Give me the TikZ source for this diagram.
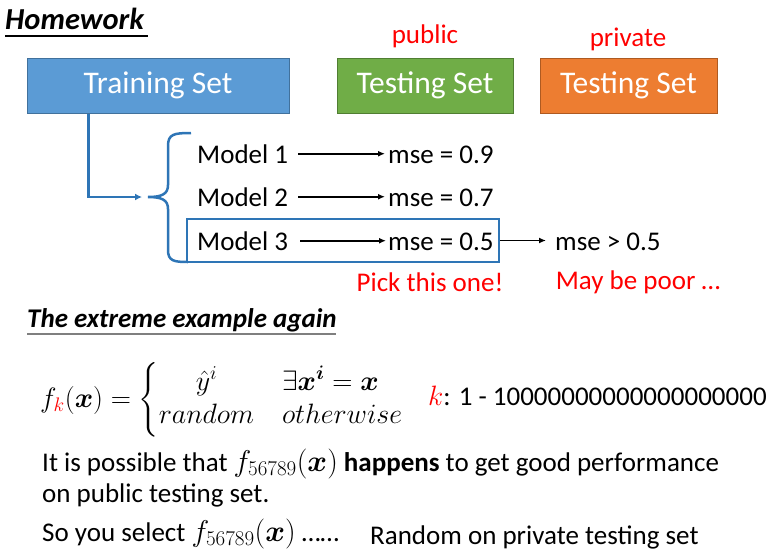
\RequirePackage{fix-cm}
\documentclass[tikz,border=0pt]{standalone}
\usepackage{fontspec}
\usepackage{amsmath}
\setmainfont{Carlito}
\usetikzlibrary{arrows.meta,calc}
\definecolor{bfill}{HTML}{5B9BD5}
\definecolor{bdraw}{HTML}{41719C}
\definecolor{gfill}{HTML}{70AD47}
\definecolor{gdraw}{HTML}{507E32}
\definecolor{ofill}{HTML}{ED7D31}
\definecolor{odraw}{HTML}{AE5A21}
\definecolor{lineblue}{HTML}{2E75B6}
\definecolor{txtred}{HTML}{FF0000}
\definecolor{ulgray}{HTML}{7F7F7F}
\newcommand{\mymath}[1]{{\fontsize{30}{30}\selectfont$#1$}}
\newcommand{\kmath}[1]{{\fontsize{28}{30}\selectfont$#1$}}
\begin{document}
\begin{tikzpicture}[x=1pt,y=-1pt,
  lbl/.style={inner sep=0pt, anchor=base west, font=\fontsize{27}{30}\selectfont},
  redlbl/.style={lbl, text=txtred},
  ttl/.style={inner sep=0pt, anchor=base west, font=\fontsize{27}{30}\selectfont\bfseries\itshape},
  setbox/.style={draw, line width=1pt, minimum height=55pt, inner sep=0pt, text=white, font=\fontsize{31.5}{34}\selectfont},
  arr/.style={-{Latex[length=7pt,width=6pt]}, line width=1.6pt},
  bluearr/.style={-{Latex[length=7pt,width=7pt]}, line width=2.5pt, draw=lineblue},
]
\useasboundingbox (0,0) rectangle (777,558);

% title
\node[ttl, font=\fontsize{30.5}{32}\selectfont\bfseries\itshape] (hw) at (5,29) {Homework};
\draw[line width=1.5pt] (hw.base west) ++(0,7) -- ++(143,0);

% set boxes
\node[setbox, fill=bfill, draw=bdraw, minimum width=262pt] (train) at (158,85.5) {Training Set};
\node[setbox, fill=gfill, draw=gdraw, minimum width=176pt] (pub) at (425,85.5) {Testing Set};
\node[setbox, fill=ofill, draw=odraw, minimum width=177pt] (priv) at (628.5,85.5) {Testing Set};
\node[redlbl, anchor=base] (publbl) at (425,43) {public};
\node[redlbl, anchor=base] (privlbl) at (628,46) {private};

% brace
\coordinate (btip) at (148,197);
\draw[lineblue, line width=2.5pt]
  (191,133) .. controls (174,133) and (168,134) .. (168,146) -- (168,185)
  .. controls (168,194) and (162,197) .. (btip)
  .. controls (162,197) and (168,200) .. (168,209) -- (168,250)
  .. controls (168,261) and (174,262) .. (188,262);
\draw[bluearr, shorten >=6pt] ($(train.south west)+(62,0)$) |- (btip);

% models
\node[lbl] (m1) at (197,163) {Model 1};
\node[lbl] (m2) at (197,206) {Model 2};
\node[lbl] (m3) at (197,250) {Model 3};
\node[lbl] (e1) at (388,163) {mse = 0.9};
\node[lbl] (e2) at (388,206) {mse = 0.7};
\node[lbl] (e3) at (388,250) {mse = 0.5};
\draw[arr] ($(m1.east)+(10,0)$) -- ($(e1.west |- m1.east)+(-3,0)$);
\draw[arr] ($(m2.east)+(10,0)$) -- ($(e2.west |- m2.east)+(-3,0)$);
\draw[arr] ($(m3.east)+(12,0)$) -- ($(e3.west |- m3.east)+(-2,0)$);

\node[draw=lineblue, line width=2.5pt, minimum width=312pt, minimum height=43pt, inner sep=0pt] (pick) at (343,240.5) {};
\node[lbl] (gt) at (555,250) {mse > 0.5};
\draw[arr] (pick.east) -- ($(gt.west |- pick.east)+(-9,0)$);
\node[redlbl, anchor=base] (picklbl) at (430,291) {Pick this one!};
\node[redlbl, anchor=base] (poorlbl) at (638,289) {May be poor …};

% second part
\node[ttl] (ex) at (27,327) {The extreme example again};
\draw[ulgray, line width=2pt] (ex.base west) ++(0,7) -- ++(309,0);

\node[inner sep=0pt, anchor=base west, font=\fontsize{28}{28}\selectfont] (fk) at (40,407)
  {$f_{\textcolor{txtred}{k}}(\boldsymbol{x}) = \begin{cases} \hfil\hat{y}^{i} & \exists \boldsymbol{x}^{\boldsymbol{i}} = \boldsymbol{x} \\ random & otherwise \end{cases}$};
\node[lbl] (krange) at (428,405) {\kmath{\textcolor{txtred}{k}}: 1 - 10000000000000000000};

\node[lbl] (l1) at (42,471) {It is possible that \mymath{f_{56789}(\boldsymbol{x})} \textbf{happens} to get good performance};
\node[lbl] (l2) at (42,502) {on public testing set.};
\node[lbl] (l3) at (42,541) {So you select \mymath{f_{56789}(\boldsymbol{x})} ……};
\node[lbl] (l4) at (370,544) {Random on private testing set};
\end{tikzpicture}
\end{document}
